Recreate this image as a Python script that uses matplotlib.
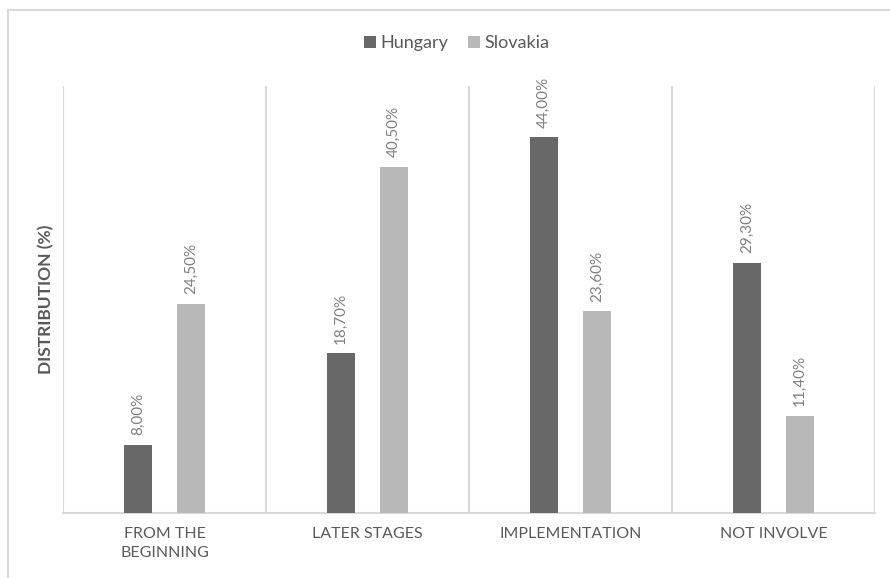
import numpy as np
import matplotlib.pyplot as plt
from matplotlib.patches import Rectangle

categorias = ['FROM THE\nBEGINNING', 'LATER STAGES', 'IMPLEMENTATION', 'NOT INVOLVE']
hungria = [8.0, 18.7, 44.0, 29.3]
eslovaquia = [24.5, 40.5, 23.6, 11.4]
series = ['Hungary', 'Slovakia']

plt.rcParams['font.family'] = ['Lato', 'DejaVu Sans']

fig = plt.figure(figsize=(8.9, 5.78), dpi=100)
ax = fig.add_axes([63 / 890, 1 - 513 / 578, 812 / 890, 427 / 578])

# marco exterior del grafico
fig.patches.append(Rectangle((8 / 890, -0.05), 1.1, 1.05 - 10 / 578,
                             transform=fig.transFigure, fill=False,
                             edgecolor='#d9d9d9', linewidth=1.5))

x = np.arange(len(categorias))
ancho = 0.14
b1 = ax.bar(x - 0.13, hungria, ancho, color='#686868', label=series[0], zorder=3)
b2 = ax.bar(x + 0.13, eslovaquia, ancho, color='#b8b8b8', label=series[1], zorder=3)

for barras in (b1, b2):
    for b in barras:
        v = b.get_height()
        ax.annotate(f'{v:.2f}%'.replace('.', ','),
                    (b.get_x() + b.get_width() / 2, v),
                    xytext=(0, 7), textcoords='offset points',
                    rotation=90, ha='center', va='bottom',
                    fontsize=11, color='#7f7f7f')

ax.set_xlim(-0.5, 3.5)
ax.set_ylim(0, 50)
ax.set_yticks([])
ax.set_xticks(x)
ax.set_xticklabels(categorias, fontsize=11.5, color='#595959', linespacing=1.45)
ax.tick_params(axis='x', length=0, pad=10)

for xb in np.arange(-0.5, 4, 1):
    ax.axvline(xb, color='#d9d9d9', linewidth=1.5, zorder=1)

for s in ['top', 'left', 'right']:
    ax.spines[s].set_visible(False)
ax.spines['bottom'].set_color('#d9d9d9')
ax.spines['bottom'].set_linewidth(1.5)

ax.set_ylabel('DISTRIBUTION (%)', fontsize=12.5, fontweight='bold',
              color='#595959', labelpad=6)

fig.legend(loc='center', bbox_to_anchor=(457 / 890, 1 - 43 / 578), ncol=2,
           frameon=False, fontsize=13, labelcolor='#595959',
           handlelength=0.65, handleheight=0.65, handletextpad=0.25,
           columnspacing=1.1)

plt.savefig('out.png', dpi=100)
plt.close()
